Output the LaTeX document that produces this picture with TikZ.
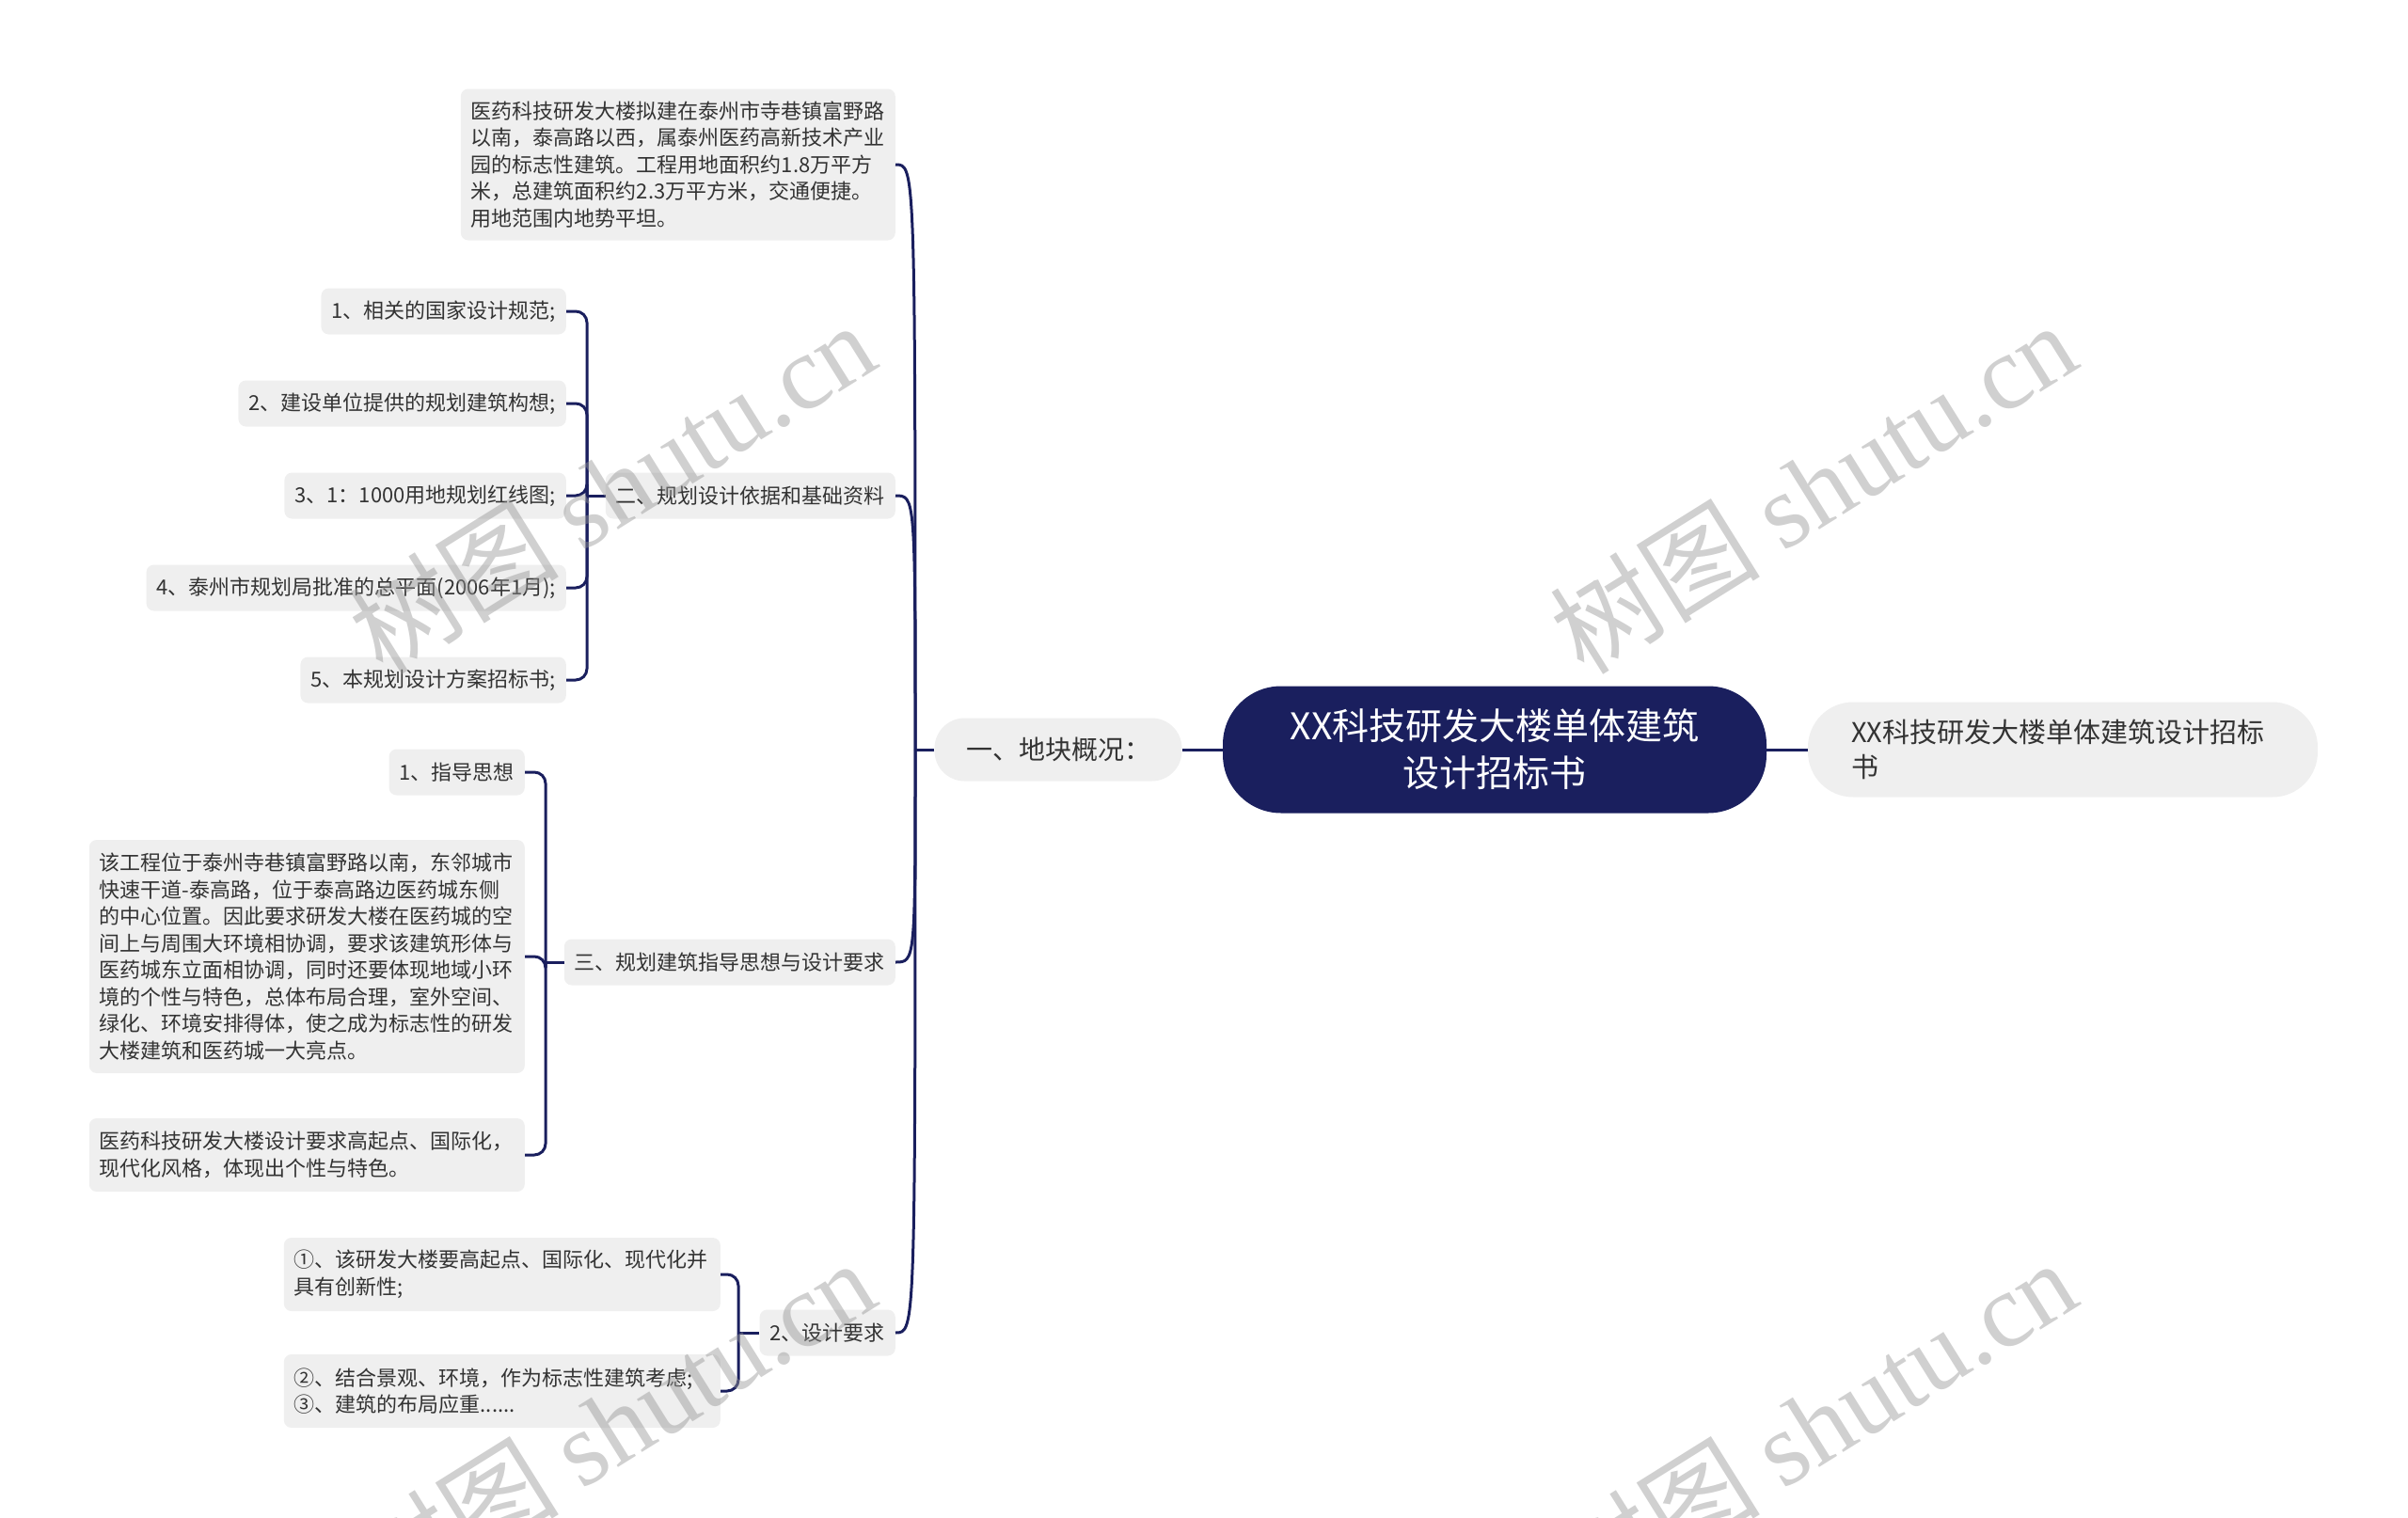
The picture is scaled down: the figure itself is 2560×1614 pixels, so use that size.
\documentclass[tikz,border=0pt]{standalone}
\usepackage{fontspec}
\setmainfont{Noto Sans CJK SC}
\newfontfamily\wmlatin{Liberation Serif}
\definecolor{navy}{RGB}{26,31,94}
\definecolor{boxgray}{RGB}{239,239,239}
\definecolor{txt}{RGB}{51,51,51}
\definecolor{wm}{RGB}{150,150,150}
\tikzset{
  box/.style={fill=boxgray, rounded corners=8pt, inner xsep=11pt, inner ysep=10pt,
    font=\fontsize{22}{28.5}\selectfont, text=txt, anchor=east, align=left},
  onebox/.style={box, minimum height=49pt},
  link/.style={draw=navy, line width=3pt},
  brk/.style={link, rounded corners=12pt},
  wmark/.style={text=wm, opacity=0.45, rotate=32, font=\fontsize{112}{112}\selectfont}
}
\begin{document}
\begin{tikzpicture}[x=1pt,y=-1pt]
\useasboundingbox (0,0) rectangle (2560,1614);

% root and first level
\node[fill=navy, rounded corners=62pt, minimum width=578pt, minimum height=135pt,
  text=white, align=center, font=\fontsize{39}{50}\selectfont] (root) at (1589,797)
  {XX科技研发大楼单体建筑\\设计招标书};
\node[fill=boxgray, rounded corners=48pt, minimum width=542pt, minimum height=101pt,
  text=txt, align=left, text width=450pt, font=\fontsize{29}{37.5}\selectfont] (right) at (2193,797)
  {XX科技研发大楼单体建筑设计招标\\书};
\node[fill=boxgray, rounded corners=32pt, minimum width=263pt, minimum height=67pt,
  text=txt, font=\fontsize{28}{34}\selectfont] (n1) at (1125,797) {一、地块概况：};

% second level
\node[box, text width=440pt, minimum height=161pt] (p1) at (952,175)
  {医药科技研发大楼拟建在泰州市寺巷镇富野路\\以南，泰高路以西，属泰州医药高新技术产业\\园的标志性建筑。工程用地面积约1.8万平方\\米，总建筑面积约2.3万平方米，交通便捷。\\用地范围内地势平坦。};
\node[onebox] (n2) at (952,527) {二、规划设计依据和基础资料};
\node[onebox] (n3) at (952,1023) {三、规划建筑指导思想与设计要求};
\node[onebox] (n4) at (952,1417) {2、设计要求};

% children of n2
\node[onebox] (c21) at (602,331) {1、相关的国家设计规范;};
\node[onebox] (c22) at (602,429) {2、建设单位提供的规划建筑构想;};
\node[onebox] (c23) at (602,527) {3、1：1000用地规划红线图;};
\node[onebox] (c24) at (602,625) {4、泰州市规划局批准的总平面(2006年1月);};
\node[onebox] (c25) at (602,723) {5、本规划设计方案招标书;};

% children of n3
\node[onebox] (c31) at (558,821) {1、指导思想};
\node[box, text width=441pt, minimum height=248pt] (c32) at (558,1017)
  {该工程位于泰州寺巷镇富野路以南，东邻城市\\快速干道-泰高路，位于泰高路边医药城东侧\\的中心位置。因此要求研发大楼在医药城的空\\间上与周围大环境相协调，要求该建筑形体与\\医药城东立面相协调，同时还要体现地域小环\\境的个性与特色，总体布局合理，室外空间、\\绿化、环境安排得体，使之成为标志性的研发\\大楼建筑和医药城一大亮点。};
\node[box, text width=441pt, minimum height=78pt] (c33) at (558,1228)
  {医药科技研发大楼设计要求高起点、国际化，\\现代化风格，体现出个性与特色。};

% children of n4
\node[box, text width=442pt, minimum height=78pt] (c41) at (766,1355)
  {①、该研发大楼要高起点、国际化、现代化并\\具有创新性;};
\node[box, text width=442pt, minimum height=78pt] (c42) at (766,1479)
  {②、结合景观、环境，作为标志性建筑考虑;\\③、建筑的布局应重......};

% connectors
\draw[link] (root.west) -- (n1.east);
\draw[link] (root.east) -- (right.west);
\coordinate (T) at (973,797);
\draw[link] (n1.west) -- (T);
\foreach \c in {p1,n2,n3,n4}{
  \draw[link] (T) .. controls (T |- \c.east) and (T |- \c.east) .. (\c.east);
}
\coordinate (B2) at (624,527);
\draw[link] (n2.west) -- (B2);
\foreach \c in {c21,c22,c23,c24,c25}{ \draw[brk] (B2) |- (\c.east); }
\coordinate (B3) at (580,1023);
\draw[link] (n3.west) -- (B3);
\foreach \c in {c31,c32,c33}{ \draw[brk] (B3) |- (\c.east); }
\coordinate (B4) at (785,1417);
\draw[link] (n4.west) -- (B4);
\foreach \c in {c41,c42}{ \draw[brk] (B4) |- (\c.east); }

% watermarks
\node[wmark] (w1) at (650,518) {树图 {\wmlatin shutu.cn}};
\node[wmark] (w2) at (1927,518) {树图 {\wmlatin shutu.cn}};
\node[wmark] (w3) at (650,1515) {树图 {\wmlatin shutu.cn}};
\node[wmark] (w4) at (1927,1515) {树图 {\wmlatin shutu.cn}};
\end{tikzpicture}
\end{document}
